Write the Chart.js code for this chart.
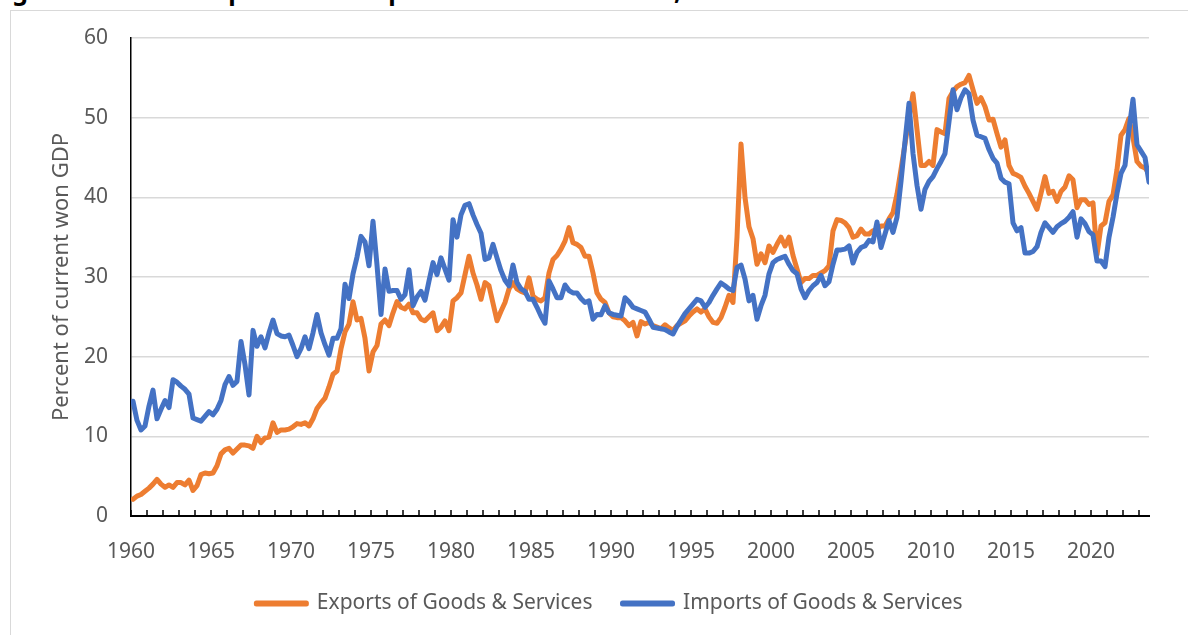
<!DOCTYPE html>
<html>
<head>
<meta charset="utf-8">
<title>Korea: exports and imports as a share of GDP</title>
<script src="https://cdn.jsdelivr.net/npm/chart.js@4.4.1/dist/chart.umd.min.js"></script>
<style>
  html, body { margin: 0; padding: 0; background: #fff; overflow: hidden; }
  body { width: 1188px; height: 635px; position: relative; font-family: "Noto Sans", sans-serif; }
  .caption { position: absolute; left: -9px; top: -27px; font: bold 25px "Noto Sans", sans-serif; color: #000; white-space: nowrap; }
  .frame { position: absolute; left: 10px; top: 10px; width: 1220px; height: 700px; border: 1.5px solid #d9d9d9; }
  #wrap { position: absolute; left: 0; top: 0; width: 1188px; height: 635px; }
</style>
</head>
<body>
<div class="caption">Figure 1. Korean Exports and Imports as a Share of GDP, 1960–2023</div>
<div class="frame"></div>
<div id="wrap"><canvas id="chart"></canvas></div>
<script>
// quarterly series, 1960Q1 .. 2023Q3, one row per year
const firstYear = 1960;
const lastTickYear = 2023;

const exportsShare = [
  2.1, 2.5, 2.7, 3.1,
  3.5, 4.0, 4.6, 4.0,
  3.6, 3.9, 3.6, 4.2,
  4.2, 3.9, 4.5, 3.2,
  3.8, 5.2, 5.4, 5.3,
  5.4, 6.3, 7.8, 8.3,
  8.5, 7.9, 8.4, 8.9,
  8.9, 8.8, 8.5, 10.0,
  9.2, 9.8, 9.9, 11.7,
  10.5, 10.8, 10.8, 10.9,
  11.2, 11.6, 11.5, 11.7,
  11.3, 12.2, 13.5, 14.2,
  14.8, 16.2, 17.8, 18.2,
  21.0, 23.1, 24.1, 26.9,
  24.6, 24.8, 22.3, 18.2,
  20.6, 21.4, 24.1, 24.6,
  23.9, 25.5, 26.9, 26.2,
  26.0, 26.6, 25.5, 25.5,
  24.7, 24.5, 25.0, 25.5,
  23.25, 23.7, 24.5, 23.25,
  27.0, 27.4, 28.0, 30.3,
  32.6, 30.5, 29.0, 27.2,
  29.3, 28.9, 26.7, 24.5,
  25.7, 26.8, 28.5, 29.3,
  28.5, 28.2, 28.0, 29.9,
  27.6, 27.2, 27.0, 27.4,
  30.5, 32.2, 32.7, 33.5,
  34.5, 36.2, 34.3, 34.1,
  33.7, 32.6, 32.6, 30.5,
  28.0, 27.2, 26.8, 25.5,
  25.0, 24.9, 24.9, 24.5,
  23.9, 24.3, 22.6, 24.4,
  24.1, 24.3, 23.9, 23.7,
  23.5, 24.0, 23.6, 23.3,
  23.9, 24.2, 24.5, 25.1,
  25.6, 26.0, 25.6, 26.0,
  25.0, 24.3, 24.2, 24.9,
  26.2, 27.7, 26.8, 35.0,
  46.7, 40.0, 36.3, 34.8,
  31.6, 32.9, 31.8, 33.9,
  33.1, 34.1, 35.0, 33.9,
  35.0, 32.7, 31.0, 29.3,
  29.8, 29.8, 30.2, 30.2,
  30.5, 30.8, 31.4, 35.8,
  37.2, 37.1, 36.8, 36.2,
  35.0, 35.2, 36.0, 35.4,
  35.4, 35.8, 36.0, 36.4,
  36.4, 37.3, 38.1, 40.4,
  43.5, 46.7, 50.0, 53.0,
  48.5, 44.0, 44.0, 44.5,
  44.0, 48.5, 48.2, 48.0,
  52.4, 53.3, 53.9, 54.2,
  54.4, 55.3, 53.5, 51.8,
  52.5, 51.4, 49.7, 49.8,
  48.0, 46.3, 47.2, 44.0,
  43.0, 42.8, 42.5, 41.4,
  40.5, 39.5, 38.5, 40.5,
  42.6, 40.5, 40.75, 39.5,
  40.75, 41.3, 42.7, 42.2,
  38.7, 39.7, 39.7, 39.1,
  39.3, 32.8, 36.4, 36.8,
  39.5, 40.3, 43.5, 47.8,
  48.5, 49.9, 47.5, 44.5,
  43.9, 43.7, 43.0
];

const importsShare = [
  14.4, 12.0, 10.8, 11.3,
  13.8, 15.8, 12.2, 13.4,
  14.5, 13.6, 17.1, 16.8,
  16.3, 15.9, 15.3, 12.3,
  12.1, 11.9, 12.5, 13.1,
  12.7, 13.4, 14.5, 16.5,
  17.5, 16.4, 16.9, 21.9,
  19.0, 15.2, 23.3, 21.3,
  22.5, 21.1, 23.0, 24.6,
  22.9, 22.6, 22.5, 22.7,
  21.4, 20.0, 21.0, 22.5,
  21.0, 23.0, 25.3, 23.0,
  21.5, 20.2, 22.3, 22.3,
  23.5, 29.1, 27.3, 30.4,
  32.5, 35.1, 34.4, 31.4,
  37.0, 31.5, 25.3, 31.0,
  28.2, 28.3, 28.3, 27.2,
  27.8, 30.9, 26.4, 27.5,
  28.2, 27.1, 29.5, 31.8,
  30.3, 32.4, 31.0, 29.6,
  37.2, 35.0, 37.8, 39.0,
  39.2, 37.8, 36.6, 35.5,
  32.2, 32.4, 34.1, 32.4,
  30.8, 29.6, 28.9, 31.5,
  29.3, 28.5, 28.2, 27.2,
  27.2, 26.2, 25.1, 24.2,
  29.5, 28.5, 27.4, 27.4,
  29.0, 28.3, 28.0, 28.0,
  27.3, 26.8, 27.0, 24.7,
  25.3, 25.25, 26.4, 25.5,
  25.3, 25.2, 25.1, 27.4,
  26.9, 26.2, 26.0, 25.8,
  25.6, 24.7, 23.7, 23.6,
  23.5, 23.4, 23.1, 22.85,
  23.8, 24.6, 25.4, 26.0,
  26.6, 27.2, 27.0, 26.2,
  26.8, 27.7, 28.5, 29.25,
  28.9, 28.5, 28.3, 31.2,
  31.5, 29.75, 27.0, 27.7,
  24.7, 26.4, 27.7, 30.4,
  31.8, 32.2, 32.4, 32.6,
  31.6, 30.8, 30.4, 28.5,
  27.4, 28.3, 28.9, 29.3,
  30.2, 28.9, 29.4, 31.6,
  33.4, 33.4, 33.5, 33.9,
  31.75, 33.1, 33.7, 33.9,
  34.6, 34.4, 36.9, 33.7,
  35.4, 37.1, 35.6, 37.5,
  42.0, 47.0, 51.8, 45.5,
  41.5, 38.5, 41.0, 42.0,
  42.6, 43.6, 44.5, 45.5,
  49.5, 53.5, 51.0, 52.5,
  53.5, 53.0, 49.7, 47.8,
  47.6, 47.4, 46.0, 44.9,
  44.3, 42.4, 41.9, 41.7,
  36.8, 35.8, 36.2, 33.0,
  33.0, 33.2, 33.8, 35.6,
  36.8, 36.2, 35.6, 36.3,
  36.7, 37.0, 37.5, 38.2,
  35.0, 37.3, 36.7, 35.7,
  35.3, 32.0, 32.0, 31.3,
  35.0, 37.5, 40.5, 43.0,
  44.0, 48.5, 52.3, 46.6,
  45.8, 45.0, 41.9
];

const yearLabels = [1960, 1965, 1970, 1975, 1980, 1985, 1990, 1995, 2000, 2005, 2010, 2015, 2020];

// each quarter sits in the middle of its slot on the year axis
const quarterPos = exportsShare.map((_, i) => firstYear + (i + 0.5) / 4);
const toPoints = arr => arr.map((v, i) => ({ x: quarterPos[i], y: v }));

const grey = '#595959';
const labelFont = { family: 'Noto Sans', size: 21 };

// small year tick marks pointing up into the plot
const yearMarks = {
  id: 'yearMarks',
  beforeDatasetsDraw(chart) {
    const { ctx, chartArea, scales: { x } } = chart;
    ctx.save();
    ctx.strokeStyle = '#000';
    ctx.lineWidth = 1.5;
    ctx.beginPath();
    for (let yr = firstYear; yr <= lastTickYear; yr++) {
      const px = Math.round(x.getPixelForValue(yr));
      ctx.moveTo(px, chartArea.bottom);
      ctx.lineTo(px, chartArea.bottom - 6);
    }
    ctx.stroke();
    ctx.restore();
  }
};

new Chart(document.getElementById('chart'), {
  type: 'line',
  data: {
    datasets: [
      {
        label: 'Exports of Goods & Services',
        data: toPoints(exportsShare),
        borderColor: '#ED7D31',
        backgroundColor: '#ED7D31',
        order: 1
      },
      {
        label: 'Imports of Goods & Services',
        data: toPoints(importsShare),
        borderColor: '#4472C4',
        backgroundColor: '#4472C4',
        order: 0
      }
    ]
  },
  options: {
    responsive: true,
    maintainAspectRatio: false,
    animation: false,
    layout: { padding: { left: 70, right: 39, top: 38, bottom: 11 } },
    elements: {
      point: { radius: 0 },
      line: { borderWidth: 5, tension: 0, borderCapStyle: 'round', borderJoinStyle: 'round' }
    },
    plugins: {
      tooltip: { enabled: false },
      legend: {
        position: 'bottom',
        labels: {
          boxWidth: 50,
          boxHeight: 1,
          padding: 30,
          color: grey,
          font: labelFont,
          sort: (a, b) => a.datasetIndex - b.datasetIndex
        }
      }
    },
    scales: {
      x: {
        type: 'linear',
        min: firstYear,
        max: 2023.625,
        afterBuildTicks: s => { s.ticks = yearLabels.map(v => ({ value: v })); },
        afterFit: s => { s.height = 47; },
        grid: { display: false },
        border: { color: '#000', width: 2 },
        ticks: { padding: 15, color: grey, font: labelFont, maxRotation: 0, autoSkip: false, callback: v => String(v) }
      },
      y: {
        min: 0,
        max: 60,
        afterFit: s => { s.width = 61; },
        grid: { color: '#d9d9d9', lineWidth: 1.5, drawTicks: false },
        border: { color: '#000', width: 1.5 },
        ticks: { stepSize: 10, padding: 23, color: grey, font: labelFont },
        title: {
          display: true,
          text: 'Percent of current won GDP',
          color: grey,
          font: { family: 'Noto Sans', size: 22 },
          padding: { top: -21, bottom: 0 }
        }
      }
    }
  },
  plugins: [yearMarks]
});
</script>
</body>
</html>
